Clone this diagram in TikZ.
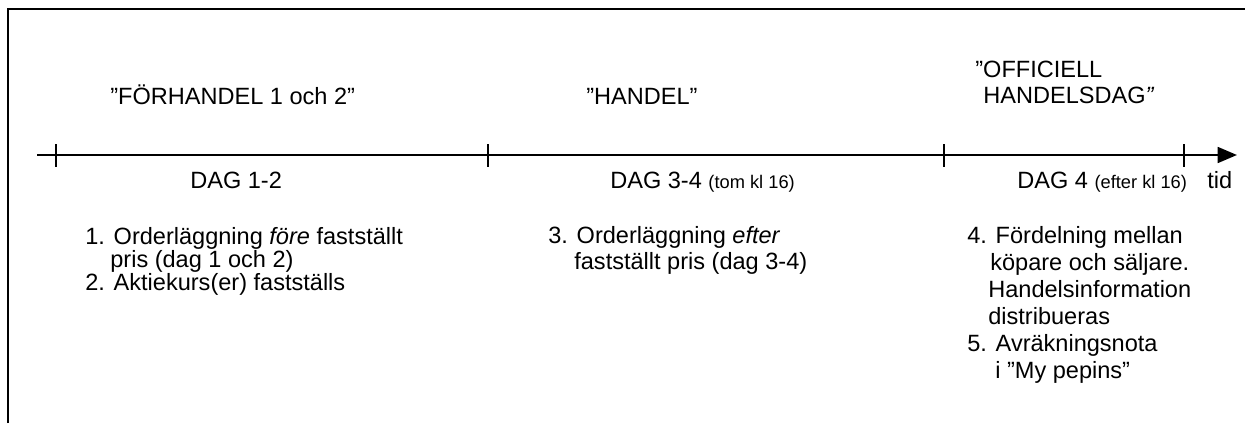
\documentclass[tikz,border=0pt]{standalone}
\usepackage{fontspec}
\setmainfont{Liberation Sans}
\usetikzlibrary{arrows.meta}

\newcommand{\mainsize}{\fontsize{13.4pt}{16pt}\selectfont}
\newcommand{\notesize}{\fontsize{10.4pt}{12pt}\selectfont}

\begin{document}
\begin{tikzpicture}[x=0.02cm,y=0.02cm]
\tikzstyle{every node}+=[inner sep=0pt]
\tikzstyle{lbl}=[anchor=base west, font=\mainsize]
\tikzstyle{tick}=[black, line width=1.1pt]
\useasboundingbox (0,0) rectangle (1245,-423);
% frame
\draw [black, line width=1.3pt] (8,-423) -- (8,-9) -- (1245,-9);
% time axis
\coordinate (start) at (37,-155);
\coordinate (end) at (1237,-155);
\draw [black, line width=1.3pt, -{Triangle[length=11pt,width=9pt]}] (start) -- (end);
\draw [tick] (56,-144) -- (56,-167);
\draw [tick] (488,-144) -- (488,-167);
\draw [tick] (944,-144) -- (944,-167);
\draw [tick] (1184,-144) -- (1184,-167);
% phases
\node [lbl] (forhandel) at (110,-104) {”FÖRHANDEL 1 och 2”};
\node [lbl] (handel) at (586,-104) {”HANDEL”};
\node [lbl] (officiell) at (975,-77) {”OFFICIELL};
\node [lbl] (handelsdag) at (983,-103) {HANDELSDAG\textit{”}};
% days
\node [lbl] (dag12) at (190,-188) {DAG 1-2};
\node [lbl] (dag34) at (610,-188) {DAG 3-4 {\notesize (tom kl 16)}};
\node [lbl] (dag4) at (1017,-188) {DAG 4 {\notesize (efter kl 16)}};
\node [lbl] (tid) at (1207,-188) {tid};
% steps
\node [lbl] (step1a) at (85,-244) {1. Orderläggning \textit{före} fastställt};
\node [lbl] (step1b) at (110,-267) {pris (dag 1 och 2)};
\node [lbl] (step2) at (85,-290) {2. Aktiekurs(er) fastställs};
\node [lbl] (step3a) at (548,-243) {3. Orderläggning \textit{efter}};
\node [lbl] (step3b) at (574,-269) {fastställt pris (dag 3-4)};
\node [lbl] (step4a) at (967,-243) {4. Fördelning mellan};
\node [lbl] (step4b) at (990,-270) {köpare och säljare.};
\node [lbl] (step4c) at (988,-297) {Handelsinformation};
\node [lbl] (step4d) at (988,-324) {distribueras};
\node [lbl] (step5a) at (967,-351) {5. Avräkningsnota};
\node [lbl] (step5b) at (995,-378) {i ”My pepins”};
\end{tikzpicture}
\end{document}
